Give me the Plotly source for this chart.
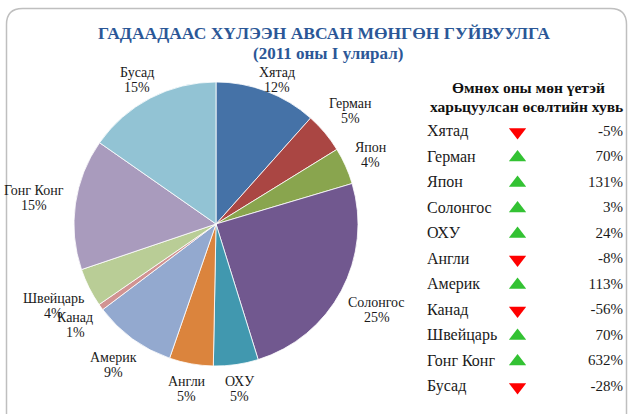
import math
import plotly.graph_objects as go

# ---- data ----
countries = ["Хятад", "Герман", "Япон", "Солонгос", "ОХУ", "Англи",
             "Америк", "Канад", "Швейцарь", "Гонг Конг", "Бусад"]
shares = [11.6, 4.6, 4.2, 24.8, 5.1, 5.0, 9.4, 0.7, 4.4, 14.9, 15.3]
growth = [-5, 70, 131, 3, 24, -8, 113, -56, 70, 632, -28]
slice_colors = ["#4572A7", "#AA4643", "#89A54E", "#71588F", "#4198AF", "#DB843D",
                "#93A9CF", "#D19392", "#B9CD96", "#A99BBD", "#92C3D4"]

title_line1 = "ГАДААДААС ХҮЛЭЭН АВСАН МӨНГӨН ГУЙВУУЛГА"
title_line2 = "(2011 оны I улирал)"
table_head1 = "Өмнөх оны мөн үетэй"
table_head2 = "харьцуулсан өсөлтийн хувь"

W, H = 628, 414
SERIF = "Liberation Serif, Times New Roman, serif"
def px(x): return x / W
def py(y): return 1 - y / H

fig = go.Figure()

# pie geometry (pixels)
cx, cy, r = 216, 224, 142
fig.add_trace(go.Pie(
    labels=countries, values=shares, sort=False, direction="clockwise",
    rotation=0,
    marker=dict(colors=slice_colors, line=dict(color="white", width=0.8)),
    textinfo="none",
    domain=dict(x=[px(cx - r), px(cx + r)], y=[py(cy + r), py(cy - r)]),
    showlegend=False, hoverinfo="label+percent",
))

# slice labels placed outside at each slice's mid-angle (derived from the data),
# kept inside the plot area below the title
total = sum(shares)
cum = 0.0
lab_size = 14
line_gap = 15
plot_top_label_y = 80
for name, v in zip(countries, shares):
    mid = (cum + v / 2) / total * 2 * math.pi
    cum += v
    s, c = math.sin(mid), math.cos(mid)
    w_est = 7.0 * max(len(name), 3)
    h_est = 28
    d = r + 9 + abs(s) * w_est / 2 + abs(c) * h_est / 2
    lx, ly = cx + d * s, max(cy - d * c, plot_top_label_y)
    for txt, dy in ((name, -line_gap / 2), (f"{round(v / total * 100)}%", line_gap / 2)):
        fig.add_annotation(
            x=px(lx), y=py(ly + dy), xref="paper", yref="paper", showarrow=False,
            xanchor="center", yanchor="middle", text=txt,
            font=dict(family=SERIF, size=lab_size, color="#1a1a1a"))

# table
rows = list(range(len(countries)))
up = [g >= 0 for g in growth]
fig.add_trace(go.Scatter(
    x=[0] * len(countries), y=rows, mode="text", text=countries,
    textposition="middle right", textfont=dict(family=SERIF, size=16, color="#1a1a1a"),
    xaxis="x2", yaxis="y2", showlegend=False, hoverinfo="skip"))
fig.add_trace(go.Scatter(
    x=[0.462] * len(countries), y=rows, mode="markers",
    marker=dict(symbol=["triangle-up" if u else "triangle-down" for u in up],
                color=["#33C233" if u else "#FF0000" for u in up], size=15,
                line=dict(width=0)),
    xaxis="x2", yaxis="y2", showlegend=False, hoverinfo="skip"))
fig.add_trace(go.Scatter(
    x=[1] * len(countries), y=rows, mode="text", text=[f"{g}%" for g in growth],
    textposition="middle left", textfont=dict(family=SERIF, size=15, color="#1a1a1a"),
    xaxis="x2", yaxis="y2", showlegend=False, hoverinfo="skip"))

row_top, row_step = 132, 25.5
y_top_px = row_top - row_step / 2
y_bot_px = row_top + row_step * (len(countries) - 0.5)
fig.update_layout(
    xaxis2=dict(domain=[px(427), px(623)], range=[0, 1], visible=False, fixedrange=True),
    yaxis2=dict(domain=[py(y_bot_px), py(y_top_px)],
                range=[len(countries) - 0.5, -0.5], visible=False, fixedrange=True),
)

# border (rounded rect), in paper coords
x0, y0, x1, y1, rad = 6.5, 8.5, 626.5, 422, 16
path = (f"M {px(x0)},{py(y1)} L {px(x0)},{py(y0 + rad)} "
        f"Q {px(x0)},{py(y0)} {px(x0 + rad)},{py(y0)} "
        f"L {px(x1 - rad)},{py(y0)} Q {px(x1)},{py(y0)} {px(x1)},{py(y0 + rad)} "
        f"L {px(x1)},{py(y1)}")
fig.add_shape(type="path", path=path, xref="paper", yref="paper",
              line=dict(color="#BFBFBF", width=1.5))

annos = [
    dict(text=f"<b>{title_line1}</b>", x=px(324), y=py(33), size=17.5, color="#2B5797"),
    dict(text=f"<b>{title_line2}</b>", x=px(328), y=py(53), size=17, color="#2B5797"),
    dict(text=f"<b>{table_head1}</b>", x=px(528), y=py(87), size=15.5, color="#111111"),
    dict(text=f"<b>{table_head2}</b>", x=px(526), y=py(106), size=15.5, color="#111111"),
]
for a in annos:
    fig.add_annotation(xref="paper", yref="paper", showarrow=False,
                       xanchor="center", yanchor="middle", text=a["text"],
                       x=a["x"], y=a["y"],
                       font=dict(family=SERIF, size=a["size"], color=a["color"]))

fig.update_layout(
    width=W, height=H, margin=dict(l=0, r=0, t=0, b=0),
    paper_bgcolor="white", plot_bgcolor="white",
)

fig.write_html("out.html", config={"displayModeBar": False},
               post_script="document.body.style.margin='0';")
